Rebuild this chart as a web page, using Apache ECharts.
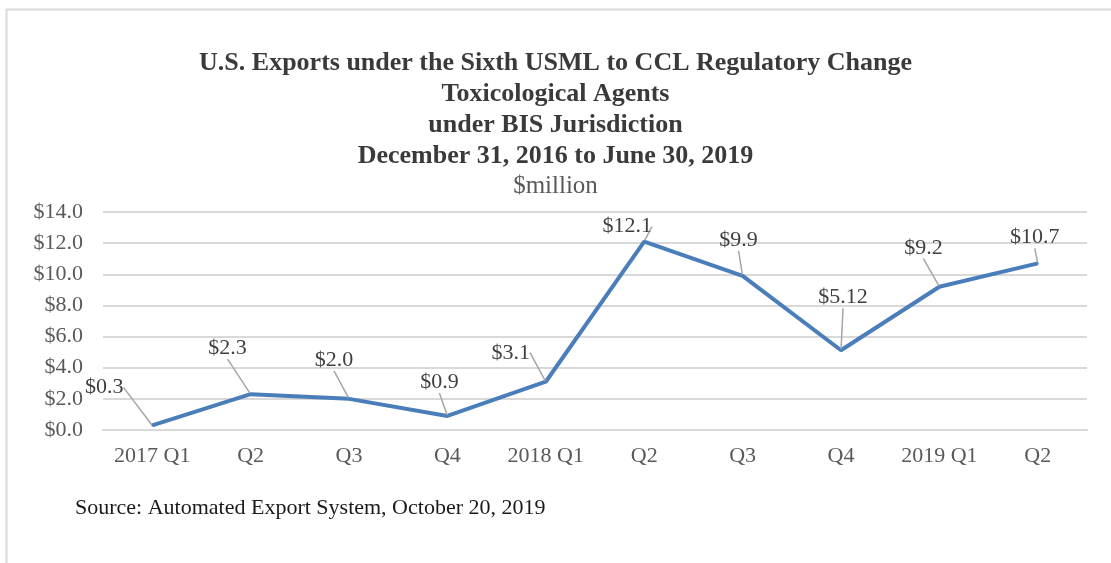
<!DOCTYPE html>
<html>
<head>
<meta charset="utf-8">
<script src="https://cdn.jsdelivr.net/npm/echarts@6/dist/echarts.min.js"></script>
<style>
  html, body { margin: 0; padding: 0; background: #fff; }
  #chart { width: 1111px; height: 563px; }
</style>
</head>
<body>
<div id="chart"></div>
<script>
// data
var quarters = ['2017 Q1', 'Q2', 'Q3', 'Q4', '2018 Q1', 'Q2', 'Q3', 'Q4', '2019 Q1', 'Q2'];
var exportsM = [0.3, 2.3, 2.0, 0.9, 3.1, 12.1, 9.9, 5.12, 9.2, 10.7];
var valueLabels = ['$0.3', '$2.3', '$2.0', '$0.9', '$3.1', '$12.1', '$9.9', '$5.12', '$9.2', '$10.7'];

// where each label sits relative to its point (label centre, px)
var labelShift = [[-48, -38], [-23, -46], [-15, -39], [-8, -34], [-35, -29],
                  [-17, -15], [-4, -36], [2, -53], [-16, -39], [-3, -26]];

var serif = '"Liberation Serif", "Times New Roman", serif';
var chart = echarts.init(document.getElementById('chart'));

chart.setOption({
    animation: false,
    backgroundColor: '#fff',
    title: [{
        text: 'U.S. Exports under the Sixth USML to CCL Regulatory Change\nToxicological Agents\nunder BIS Jurisdiction\nDecember 31, 2016 to June 30, 2019',
        left: 'center',
        top: 43,
        textStyle: {
            fontFamily: serif, fontSize: 26, fontWeight: 'bold',
            color: '#3a3a3a', lineHeight: 31, align: 'center'
        }
    }, {
        text: '$million',
        left: 'center',
        top: 168,
        textStyle: { fontFamily: serif, fontSize: 25, lineHeight: 26, fontWeight: 'normal', color: '#595959' }
    }, {
        text: 'Source: Automated Export System, October 20, 2019',
        left: 70,
        top: 492,
        textStyle: { fontFamily: serif, fontSize: 22, lineHeight: 22, fontWeight: 'normal', color: '#1a1a1a' }
    }],
    graphic: [{
        type: 'rect',
        shape: { x: 6.5, y: 9.5, width: 1200, height: 600 },
        style: { fill: 'none', stroke: '#d9d9d9', lineWidth: 2 },
        silent: true
    }],
    grid: { left: 103, right: 24, top: 212, bottom: 133 },
    xAxis: {
        type: 'category',
        data: quarters,
        boundaryGap: true,
        axisLine: { lineStyle: { color: '#d9d9d9', width: 2 } },
        axisTick: { show: false },
        axisLabel: { interval: 0, fontFamily: serif, fontSize: 22, color: '#595959', margin: 15 }
    },
    yAxis: {
        type: 'value',
        min: 0, max: 14, interval: 2,
        axisLine: { show: false },
        axisTick: { show: false },
        splitLine: { lineStyle: { color: '#d9d9d9', width: 2 } },
        axisLabel: {
            fontFamily: serif, fontSize: 22, color: '#595959', margin: 20,
            formatter: function (v) { return '$' + v.toFixed(1); }
        }
    },
    series: [{
        type: 'line',
        data: exportsM,
        symbol: 'circle',
        symbolSize: 2,
        lineStyle: { color: '#4a7ebb', width: 4 },
        itemStyle: { color: '#4a7ebb' },
        label: {
            show: true,
            position: 'top',
            fontFamily: serif, fontSize: 22, color: '#404040',
            formatter: function (p) { return valueLabels[p.dataIndex]; }
        },
        labelLine: { show: true, lineStyle: { color: '#a6a6a6', width: 1.5 } },
        labelLayout: function (p) {
            var s = labelShift[p.dataIndex];
            var cx = p.rect.x + p.rect.width / 2;
            var cy = p.rect.y + p.rect.height / 2;
            var lx = p.labelRect.x + p.labelRect.width / 2;
            var ly = p.labelRect.y + p.labelRect.height / 2;
            return { dx: cx + s[0] - lx, dy: cy + s[1] - ly };
        }
    }]
});
</script>
</body>
</html>
